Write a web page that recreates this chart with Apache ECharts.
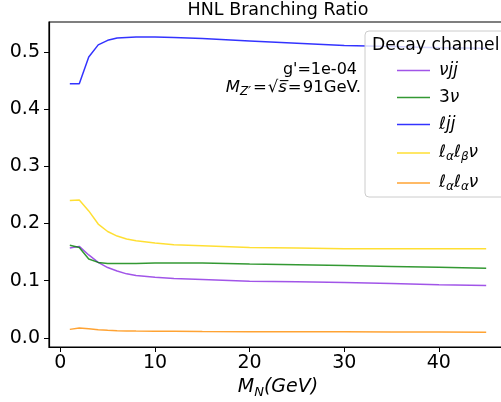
<!DOCTYPE html>
<html>
<head>
<meta charset="utf-8">
<script src="https://cdn.jsdelivr.net/npm/echarts@6/dist/echarts.min.js"></script>
<style>
  html, body { margin: 0; padding: 0; overflow: hidden; background: #fff; }
  #chart { width: 520px; height: 402px; }
</style>
</head>
<body>
<div id="chart"></div>
<script>
// HNL masses (GeV)
const massN = [1, 2, 3, 4, 5, 6, 7, 8, 10, 12, 15, 20, 25, 30, 35, 40, 45];

// branching ratios per decay channel
const brNuJJ   = [0.157, 0.160, 0.145, 0.132, 0.123, 0.117, 0.112, 0.109, 0.106, 0.104, 0.102, 0.099, 0.098, 0.097, 0.095, 0.093, 0.0915];
const br3Nu    = [0.162, 0.158, 0.138, 0.132, 0.130, 0.130, 0.130, 0.130, 0.131, 0.131, 0.131, 0.129, 0.128, 0.1265, 0.125, 0.1235, 0.122];
const brLJJ    = [0.444, 0.444, 0.491, 0.512, 0.520, 0.524, 0.525, 0.526, 0.526, 0.525, 0.523, 0.519, 0.515, 0.511, 0.509, 0.507, 0.506];
const brLaLbNu = [0.240, 0.241, 0.222, 0.199, 0.186, 0.178, 0.173, 0.170, 0.166, 0.163, 0.161, 0.158, 0.157, 0.156, 0.156, 0.156, 0.156];
const brLaLaNu = [0.015, 0.0175, 0.016, 0.0145, 0.0135, 0.0128, 0.0122, 0.012, 0.0117, 0.0115, 0.0112, 0.011, 0.011, 0.0108, 0.0105, 0.0103, 0.0101];

const xTicks = [0, 10, 20, 30, 40];
const yTicks = [0, 0.1, 0.2, 0.3, 0.4, 0.5];

const channels = [
  { name: 'νjj',   data: brNuJJ,   color: '#8a2be2', label: '{i|νjj}' },
  { name: '3ν',    data: br3Nu,    color: '#008000', label: '{t|3}{i|ν}' },
  { name: 'ℓjj',   data: brLJJ,    color: '#0000ff', label: '{i|ℓjj}' },
  { name: 'ℓαℓβν', data: brLaLbNu, color: '#ffd700', label: '{i|ℓ}{s|α}{i|ℓ}{s|β}{i|ν}' },
  { name: 'ℓαℓαν', data: brLaLaNu, color: '#ff8c00', label: '{i|ℓ}{s|α}{i|ℓ}{s|α}{i|ν}' }
];

const font = 'DejaVu Sans';
const chart = echarts.init(document.getElementById('chart'));

const option = {
  animation: false,
  grid: {
    left: 49, top: 22, right: 13, bottom: 55,
    outerBoundsMode: 'none',
    containLabel: false,
    show: true, borderColor: '#000', borderWidth: 1.2
  },
  xAxis: {
    type: 'value',
    min: -1.2, max: 47.2,
    name: '{i|M}{s|N}{i|(GeV)}',
    nameLocation: 'middle',
    nameGap: 25,
    nameTextStyle: {
      rich: {
        i: { fontFamily: font, fontStyle: 'italic', fontSize: 19, color: '#000' },
        s: { fontFamily: font, fontStyle: 'italic', fontSize: 13, color: '#000', verticalAlign: 'bottom', padding: [10, 0, 0, 0] }
      }
    },
    axisLine: { show: true, onZero: false, lineStyle: { color: '#000', width: 1.2 } },
    axisTick: { show: true, length: 5, lineStyle: { color: '#000' }, customValues: xTicks },
    axisLabel: { customValues: xTicks, color: '#000', fontFamily: font, fontSize: 19, margin: 7 },
    splitLine: { show: false }
  },
  yAxis: {
    type: 'value',
    min: -0.0158, max: 0.552,
    axisLine: { show: true, onZero: false, lineStyle: { color: '#000', width: 1.2 } },
    axisTick: { show: true, length: 5, lineStyle: { color: '#000' }, customValues: yTicks },
    axisLabel: {
      customValues: yTicks, color: '#000', fontFamily: font, fontSize: 19, margin: 9,
      formatter: v => v.toFixed(1)
    },
    splitLine: { show: false }
  },
  legend: {
    orient: 'vertical',
    left: 392, top: 57,
    icon: 'rect',
    itemWidth: 33, itemHeight: 1.5, itemGap: 10,
    data: channels.map(c => c.name),
    formatter: name => channels.find(c => c.name === name).label,
    textStyle: {
      padding: [0, 0, 0, 4],
      rich: {
        i: { fontFamily: font, fontStyle: 'italic', fontSize: 17, color: '#000', lineHeight: 20 },
        t: { fontFamily: font, fontSize: 17, color: '#000', lineHeight: 20 },
        s: { fontFamily: font, fontStyle: 'italic', fontSize: 12, color: '#000', lineHeight: 20, verticalAlign: 'bottom', padding: [8, 0, 0, 0] }
      }
    },
    z: 10
  },
  graphic: [
    {
      type: 'text', x: 278, y: 10,
      style: { text: 'HNL Branching Ratio', fontFamily: font, fontSize: 17.5, fill: '#000', align: 'center', verticalAlign: 'middle' }
    },
    {
      type: 'text', x: 357, y: 70,
      style: { text: "g'=1e-04", fontFamily: font, fontSize: 16, fill: '#000', align: 'right', verticalAlign: 'middle' }
    },
    {
      type: 'text', x: 361, y: 88,
      style: {
        text: '{i|M}{s|Z′}{e|=}{t|√}{i|s̅}{e|=}{t|91GeV.}',
        align: 'right', verticalAlign: 'middle',
        rich: {
          i: { fontFamily: font, fontStyle: 'italic', fontSize: 16.5, fill: '#000' },
          t: { fontFamily: font, fontSize: 16.5, fill: '#000' },
          e: { fontFamily: font, fontSize: 16.5, fill: '#000', padding: [0, 1, 0, 1] },
          s: { fontFamily: font, fontStyle: 'italic', fontSize: 12, fill: '#000', verticalAlign: 'bottom', padding: [8, 1, 0, 0] }
        }
      }
    },
    {
      type: 'rect', z: 5,
      shape: { x: 365, y: 31, width: 150, height: 166, r: 4 },
      style: { fill: 'rgba(255,255,255,0.8)', stroke: '#cccccc', lineWidth: 1 }
    },
    {
      type: 'text', z: 6, x: 372, y: 46,
      style: { text: 'Decay channel', fontFamily: font, fontSize: 17.2, fill: '#000', verticalAlign: 'middle' }
    }
  ],
  series: channels.map(c => ({
    name: c.name,
    type: 'line',
    data: massN.map((m, i) => [m, c.data[i]]),
    symbol: 'none',
    smooth: false,
    color: c.color,
    lineStyle: { color: c.color, width: 1.5, opacity: 0.8 },
    itemStyle: { color: c.color, opacity: 0.8 }
  }))
};

chart.setOption(option);
</script>
</body>
</html>
